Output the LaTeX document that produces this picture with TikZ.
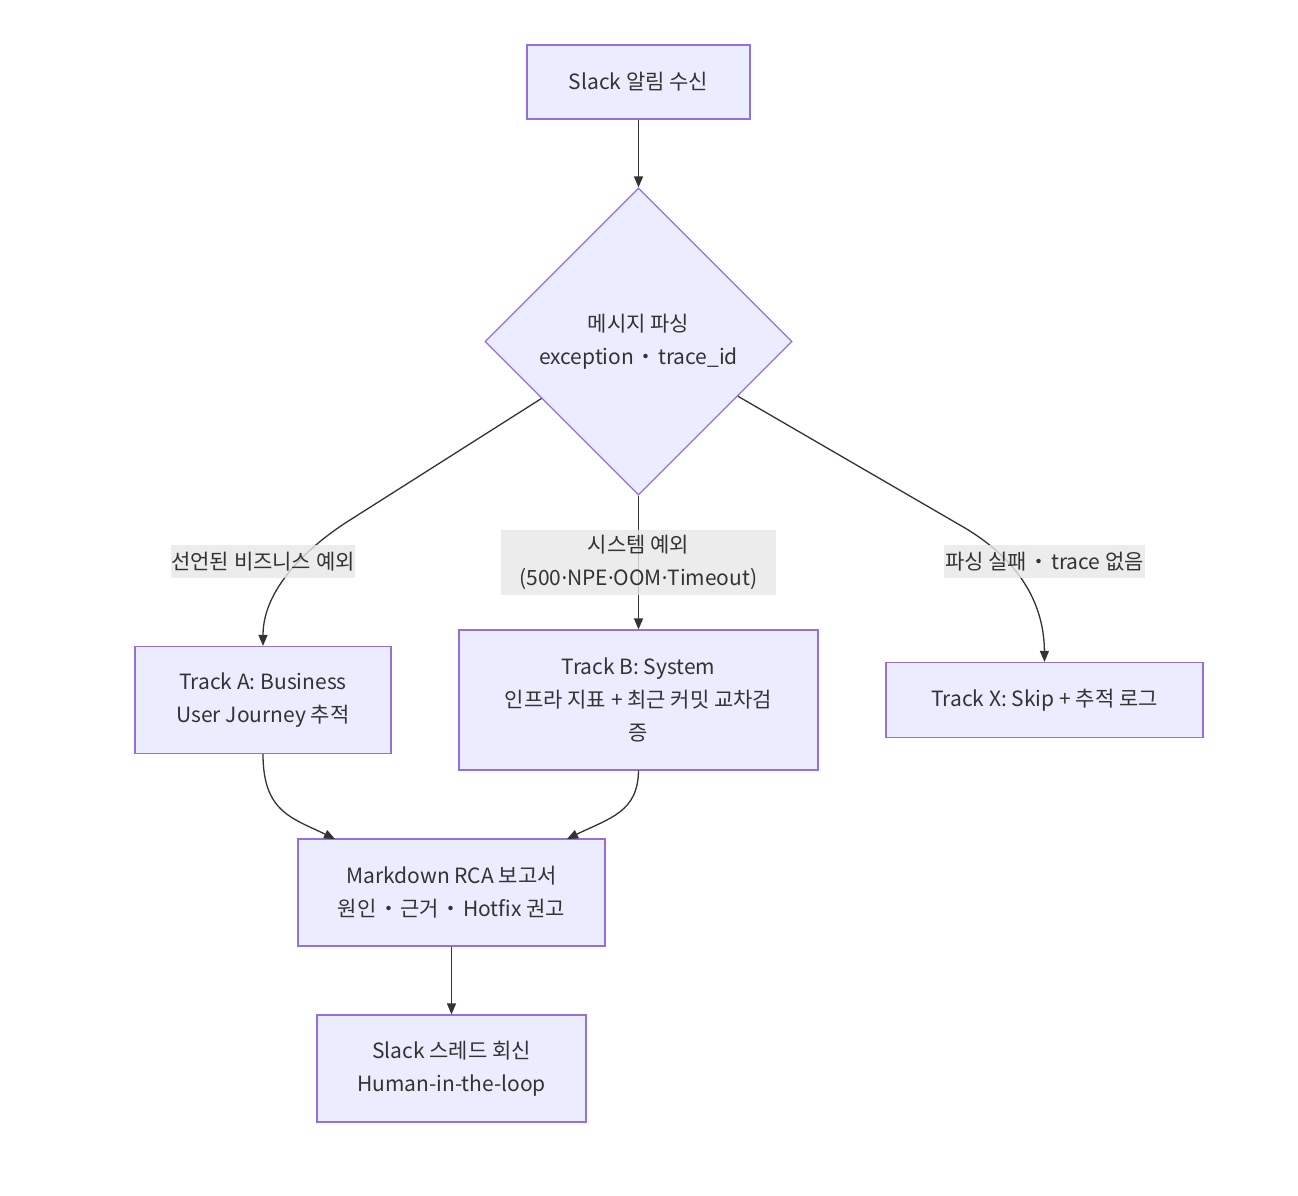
\documentclass[tikz,border=0pt]{standalone}
\usepackage{fontspec}
\setmainfont{Noto Sans CJK KR}
\newfontfamily\latinfont{Noto Sans}
\usetikzlibrary{shapes.geometric,arrows.meta,calc}
\definecolor{nodefill}{HTML}{ECECFF}
\definecolor{nodeborder}{HTML}{9370DB}
\definecolor{edgecol}{HTML}{333333}
\definecolor{labelbg}{HTML}{E8E8E8}
\newcommand{\wdot}{\hspace{1.5pt}・\hspace{1.5pt}}
\newcommand{\ndot}{{\latinfont ·}}
\begin{document}
\begin{tikzpicture}[x=1pt,y=-1pt,
  box/.style={draw=nodeborder, fill=nodefill, line width=1.2pt, align=center,
    text=edgecol, font=\fontsize{21}{33}\selectfont, inner sep=0pt},
  decision/.style={box, diamond, aspect=1, minimum width=307pt, minimum height=307pt},
  elabel/.style={fill=labelbg, fill opacity=0.8, text opacity=1, text=edgecol,
    align=center, inner sep=0pt, font=\fontsize{21}{33}\selectfont},
  conn/.style={draw=edgecol, line width=1.3pt, -{Triangle[length=11pt,width=9pt]}}
]
\useasboundingbox (0,0) rectangle (1298,1196);
\fill[white] (0,0) rectangle (1298,1196);

\node[box, minimum width=223pt, minimum height=74pt] (start) at (638.5,82) {Slack 알림 수신};
\node[decision] (dia) at (638.5,341.5) {메시지 파싱\\exception\wdot trace\_id};
\node[box, minimum width=256pt, minimum height=107pt] (ta) at (263,700) {Track A: Business\\User Journey 추적};
\node[box, minimum width=359pt, minimum height=140pt] (tb) at (638.5,700) {Track B: System\\인프라 지표 + 최근 커밋 교차검\\증};
\node[box, minimum width=317pt, minimum height=75pt] (tx) at (1044.5,700) {Track X: Skip + 추적 로그};
\node[box, minimum width=307pt, minimum height=107pt] (md) at (451.5,892.5) {Markdown RCA 보고서\\원인\wdot 근거\wdot Hotfix 권고};
\node[box, minimum width=269pt, minimum height=107pt] (reply) at (451.5,1068.5) {Slack 스레드 회신\\Human-in-the-loop};

\coordinate (dl) at ($(dia.west)!0.37!(dia.south)$);
\coordinate (dr) at ($(dia.east)!0.355!(dia.south)$);
\coordinate (bendl) at (350,520);
\coordinate (bendr) at (965,528);
\coordinate (mdl) at (335,839);
\coordinate (mdr) at (567,839);

\draw[conn] (start) -- (dia.north);
\draw[conn] (dl) -- (bendl) .. controls (315,542) and (263,585) .. (ta.north);
\draw[conn] (dia.south) -- (tb.north);
\draw[conn] (dr) -- (bendr) .. controls (1010,555) and (1044,595) .. (tx.north);
\draw[conn] (ta.south) .. controls (263,812) and (292,818) .. (mdl);
\draw[conn] (tb.south) .. controls (638,812) and (610,818) .. (mdr);
\draw[conn] (md) -- (reply);

\node[elabel, minimum width=184pt, minimum height=33pt] (la) at (263,561.5) {선언된 비즈니스 예외};
\node[elabel, minimum width=275pt, minimum height=65pt] (lb) at (638.5,562.5) {시스템 예외\\(500\ndot NPE\ndot OOM\ndot Timeout)};
\node[elabel, minimum width=201pt, minimum height=33pt] (lx) at (1044.5,561.5) {파싱 실패\wdot trace 없음};
\end{tikzpicture}
\end{document}
